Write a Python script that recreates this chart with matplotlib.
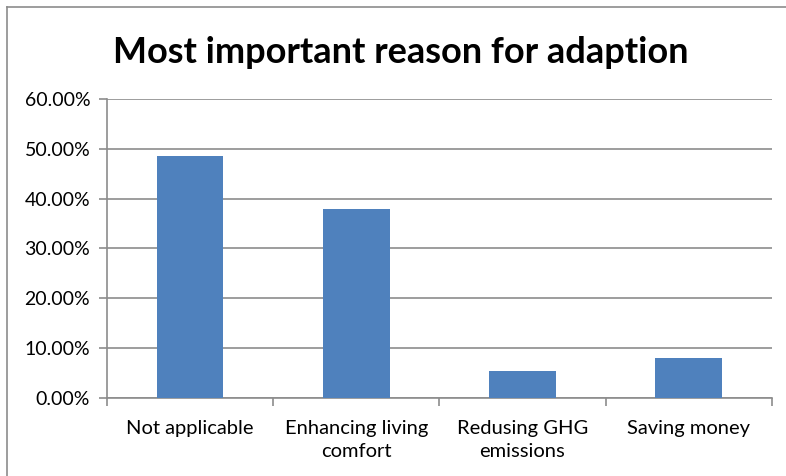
import matplotlib.pyplot as plt
from matplotlib.lines import Line2D
from matplotlib.ticker import FuncFormatter
import numpy as np

categories = ["Not applicable", "Enhancing living\ncomfort", "Redusing GHG\nemissions", "Saving money"]
shares = [48.65, 37.84, 5.41, 8.11]
y_ticks = [0, 10, 20, 30, 40, 50, 60]

plt.rcParams["font.family"] = ["Lato", "DejaVu Sans"]

fig = plt.figure(figsize=(7.86, 4.76), dpi=100)
ax = fig.add_axes([0.136, 0.164, 0.846, 0.628])

x = np.arange(len(categories))
ax.bar(x, shares, width=0.4, color="#4F81BD", zorder=3)

ax.set_xlim(-0.5, len(categories) - 0.5)
ax.set_ylim(0, 60)
ax.set_yticks(y_ticks)
ax.yaxis.set_major_formatter(FuncFormatter(lambda v, p: "%.2f%%" % v))
ax.grid(axis="y", color="#8c8c8c", linewidth=1.2, zorder=0)

# category labels centred, tick marks on the boundaries
ax.set_xticks(x)
ax.set_xticklabels(categories, fontsize=14.5, linespacing=1.45)
ax.tick_params(axis="x", length=0, pad=16)
ax.set_xticks(np.arange(len(categories) + 1) - 0.5, minor=True)
ax.tick_params(axis="x", which="minor", length=6, color="#8c8c8c", width=1.2)
ax.tick_params(axis="y", length=6, color="#8c8c8c", width=1.2, labelsize=14, pad=6)

for side in ["top", "right"]:
    ax.spines[side].set_visible(False)
for side in ["left", "bottom"]:
    ax.spines[side].set_color("#8c8c8c")
    ax.spines[side].set_linewidth(1.2)

fig.text(0.51, 0.89, "Most important reason for adaption", ha="center", va="center",
         fontsize=26, fontweight="bold")

# chart frame
fig.add_artist(Line2D([7 / 786, 7 / 786], [0, 1 - 7 / 476], transform=fig.transFigure, color="#8c8c8c", lw=1.2))
fig.add_artist(Line2D([7 / 786, 1], [1 - 7 / 476, 1 - 7 / 476], transform=fig.transFigure, color="#8c8c8c", lw=1.2))

fig.savefig("out.png", dpi=100)
